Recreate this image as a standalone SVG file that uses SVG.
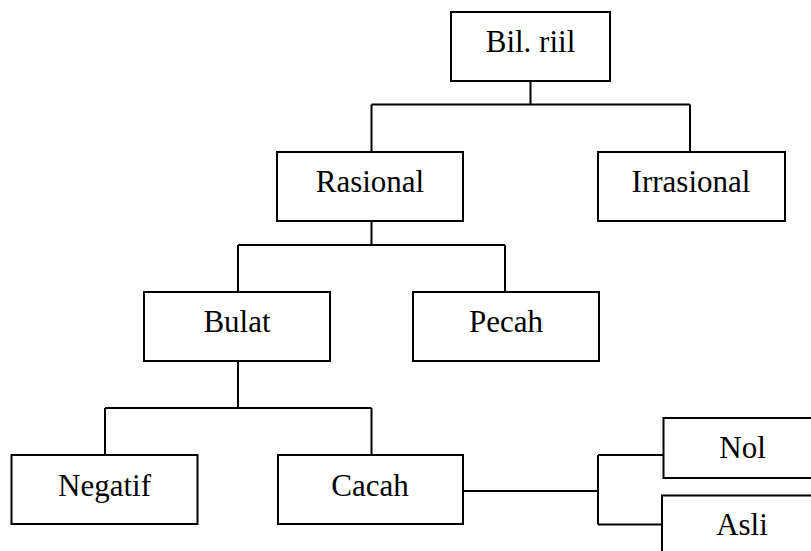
<svg xmlns="http://www.w3.org/2000/svg" width="811" height="551" viewBox="0 0 811 551">
<style>
.box{fill:#fff;stroke:#000;stroke-width:2}
.lbl{font-family:"Liberation Serif","Times New Roman",serif;font-size:31px;fill:#000;text-anchor:middle}
.con{fill:none;stroke:#000;stroke-width:2}
</style>
<rect width="811" height="551" fill="#fff"/>
<g id="connectors" class="con">
<path d="M530.5,81V104.5M371.5,104.5H690M371.5,104.5V152M690,104.5V152"/>
<path d="M371.5,221V245M238,245H505M238,245V292M505,245V292"/>
<path d="M238,361V408M105,408H371.5M105,408V455M371.5,408V455"/>
<path d="M463,491H598M598,455V524.5M598,455H663.5M598,524.5H662"/>
</g>
<g id="bil-riil"><rect class="box" x="451" y="12" width="159" height="69"/><text class="lbl" x="530.5" y="52">Bil. riil</text></g>
<g id="rasional"><rect class="box" x="277" y="152" width="186" height="69"/><text class="lbl" x="370" y="192">Rasional</text></g>
<g id="irrasional"><rect class="box" x="598" y="152" width="187" height="69"/><text class="lbl" x="691" y="192">Irrasional</text></g>
<g id="bulat"><rect class="box" x="144" y="292" width="186" height="69"/><text class="lbl" x="237" y="332">Bulat</text></g>
<g id="pecah"><rect class="box" x="413" y="292" width="186" height="69"/><text class="lbl" x="506" y="332">Pecah</text></g>
<g id="negatif"><rect class="box" x="11.5" y="455" width="186" height="69"/><text class="lbl" x="104.5" y="496">Negatif</text></g>
<g id="cacah"><rect class="box" x="278" y="455" width="185" height="69"/><text class="lbl" x="370" y="496">Cacah</text></g>
<g id="nol"><rect class="box" x="663.5" y="418" width="160" height="60"/><text class="lbl" x="742.5" y="458">Nol</text></g>
<g id="asli"><rect class="box" x="662" y="495.5" width="160" height="70"/><text class="lbl" x="742" y="535">Asli</text></g>
</svg>
